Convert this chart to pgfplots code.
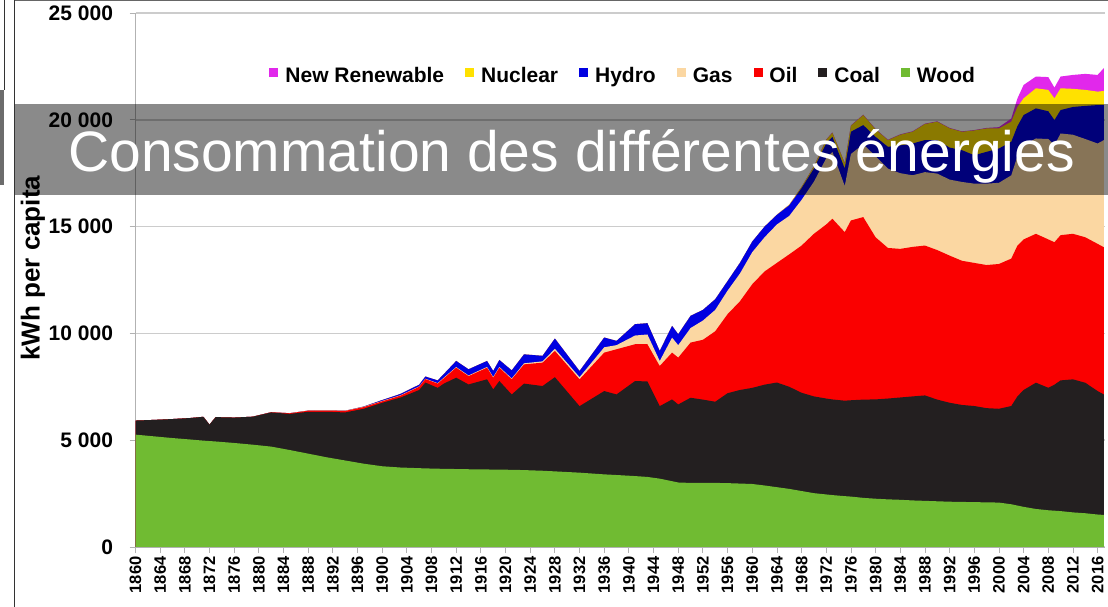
\documentclass[border=0pt]{standalone}
\usepackage{pgfplots}
\pgfplotsset{compat=1.18}
\usepackage{pgfplotstable}
\usepackage{fontspec}
\setmainfont{Liberation Sans}
\definecolor{wood}{RGB}{112,187,50}
\definecolor{coal}{RGB}{35,31,32}
\definecolor{oil}{RGB}{250,0,0}
\definecolor{gas}{RGB}{251,215,162}
\definecolor{hydro}{RGB}{0,0,225}
\definecolor{nuclear}{RGB}{255,225,0}
\definecolor{renew}{RGB}{225,40,235}
\pgfplotstableread{
year W C O G H N R
1860 5260 5920 5920 5920 5920 5920 5920
1863 5180 5950 5950 5950 5950 5950 5950
1866 5100 5990 5990 5990 5990 5990 5990
1869 5030 6040 6040 6040 6040 6040 6040
1871 4980 6095 6095 6095 6095 6095 6095
1872 4960 5730 5730 5730 5730 5730 5730
1873 4940 6080 6080 6080 6080 6080 6080
1876 4870 6060 6060 6060 6060 6060 6060
1879 4790 6100 6100 6100 6100 6100 6100
1882 4700 6300 6310 6310 6310 6310 6310
1885 4540 6230 6260 6265 6265 6265 6265
1888 4370 6330 6380 6385 6385 6385 6385
1891 4200 6330 6390 6400 6400 6400 6400
1894 4050 6300 6370 6380 6380 6380 6380
1897 3900 6470 6550 6565 6575 6575 6575
1900 3780 6750 6820 6840 6880 6880 6880
1903 3720 7000 7090 7110 7170 7170 7170
1906 3690 7350 7500 7520 7600 7600 7600
1907 3680 7700 7860 7880 7980 7980 7980
1909 3665 7450 7650 7670 7800 7800 7800
1910 3660 7650 7900 7930 8100 8100 8100
1912 3650 7925 8395 8425 8710 8710 8710
1914 3640 7610 8000 8030 8320 8320 8320
1917 3630 7850 8395 8430 8710 8710 8710
1918 3625 7380 7925 7960 8240 8240 8240
1919 3620 7770 8395 8430 8755 8755 8755
1921 3615 7140 7850 7890 8270 8270 8270
1923 3600 7650 8550 8600 9020 9020 9020
1926 3570 7535 8630 8690 8950 8950 8950
1928 3540 7950 9180 9280 9760 9760 9760
1932 3480 6594 7850 7950 8240 8240 8240
1936 3400 7300 9100 9350 9807 9807 9807
1938 3370 7143 9257 9450 9650 9650 9650
1941 3320 7770 9492 9900 10432 10432 10432
1943 3280 7750 9492 9950 10479 10479 10479
1945 3200 6594 8473 8708 9178 9178 9178
1947 3080 6908 9100 9800 10352 10352 10352
1948 3020 6673 8866 9450 9962 9962 9962
1950 3000 6987 9570 10250 10823 10823 10823
1952 3000 6900 9700 10600 11100 11100 11100
1954 3000 6800 10100 11100 11600 11600 11600
1956 2990 7200 10900 12000 12450 12450 12450
1958 2970 7350 11500 12800 13300 13300 13300
1960 2950 7450 12300 13800 14300 14300 14300
1962 2880 7600 12900 14500 15000 15000 15000
1964 2800 7700 13300 15100 15550 15560 15560
1966 2720 7500 13700 15500 16000 16030 16030
1968 2620 7220 14112 16250 16800 16860 16860
1970 2520 7050 14662 17100 17716 17820 17835
1972 2460 6950 15100 18200 18900 19060 19080
1973 2430 6908 15367 18500 19200 19390 19410
1975 2380 6850 14740 16900 17716 17960 17980
1976 2360 6870 15287 18400 19440 19720 19740
1978 2300 6900 15445 18850 19752 20220 20240
1980 2260 6910 14500 18300 19200 19550 19570
1982 2230 6950 14000 17716 18735 19047 19067
1984 2210 7000 13956 17500 18800 19300 19320
1986 2180 7050 14050 17402 18890 19440 19460
1988 2160 7096 14112 17550 19050 19800 19820
1990 2140 6900 13900 17481 19047 19910 19930
1992 2120 6753 13642 17200 18700 19600 19620
1994 2110 6650 13400 17090 18577 19440 19460
1996 2100 6600 13300 17011 18342 19500 19520
1998 2090 6500 13200 17011 18500 19595 19620
2000 2080 6471 13250 17050 18656 19595 19655
2002 2000 6600 13500 17400 18970 19910 20060
2003 1940 7050 14112 18300 19700 20600 21000
2004 1880 7350 14400 18812 20220 21005 21630
2006 1780 7692 14662 19126 20535 21475 22025
2008 1720 7455 14400 19100 20400 21400 22000
2009 1700 7600 14270 18812 19987 21005 21506
2010 1680 7800 14600 19360 20455 21475 22025
2012 1620 7848 14662 19300 20600 21450 22100
2014 1580 7690 14500 19100 20650 21400 22150
2016 1520 7300 14191 18890 20690 21318 22100
2017 1500 7143 14036 19047 20690 21350 22415
}\data
\begin{document}
\begin{tikzpicture}
\useasboundingbox (0,0) rectangle (1108bp,607bp);
\begin{axis}[
  at={(135.5bp,60bp)}, anchor=south west,
  scale only axis, width=969.5bp, height=534bp,
  xmin=1860, xmax=2017.2, ymin=0, ymax=25000,
  axis lines*=left,
  axis line style={draw=gray!60, line width=1bp},
  ymajorgrids, grid style={draw=gray!40, line width=1.5bp},
  xtick={1860,1864,...,2016},
  minor x tick num=3,
  ytick={0,5000,10000,15000,20000,25000},
  yticklabels={0,5 000,10 000,15 000,20 000,25 000},
  tick align=outside,
  major tick length=6bp, minor tick length=4bp,
  tick style={draw=gray!60, line width=0.8bp},
  /pgf/number format/assume math mode=true,
  xticklabel={\pgfmathprintnumber[1000 sep={},fixed,precision=0]{\tick}},
  xticklabel style={rotate=90, anchor=east, font=\fontsize{16.5bp}{18bp}\selectfont\bfseries},
  yticklabel style={font=\fontsize{21bp}{23bp}\selectfont\bfseries, xshift=-13bp},
  ylabel={kWh per capita},
  ylabel style={at={(axis description cs:-0.1057,0.522)}, anchor=center, font=\fontsize{26bp}{28bp}\selectfont\bfseries},
  legend columns=7,
  legend style={at={(axis description cs:0.503,0.882)}, anchor=center, draw=none, fill=none,
    font=\fontsize{21bp}{24bp}\selectfont\bfseries,
    /tikz/every odd column/.append style={column sep=5bp},
    /tikz/every even column/.append style={column sep=19bp}},
  legend image code/.code={\fill[#1] (0bp,-1bp) rectangle (9bp,8bp);},
]
\addplot[fill=renew, draw=none] table[x=year,y=R] {\data} \closedcycle;
\addlegendentry{New Renewable}
\addplot[fill=nuclear, draw=none] table[x=year,y=N] {\data} \closedcycle;
\addlegendentry{Nuclear}
\addplot[fill=hydro, draw=none] table[x=year,y=H] {\data} \closedcycle;
\addlegendentry{Hydro}
\addplot[fill=gas, draw=none] table[x=year,y=G] {\data} \closedcycle;
\addlegendentry{Gas}
\addplot[fill=oil, draw=none] table[x=year,y=O] {\data} \closedcycle;
\addlegendentry{Oil}
\addplot[fill=coal, draw=none] table[x=year,y=C] {\data} \closedcycle;
\addlegendentry{Coal}
\addplot[fill=wood, draw=none] table[x=year,y=W] {\data} \closedcycle;
\addlegendentry{Wood}
\end{axis}
% decorative frame lines of the screenshot
\draw[black!80, line width=1.2bp] (14.5bp,0bp) -- (14.5bp,607bp);
\draw[black!60, line width=1bp] (14.5bp,606bp) -- (1108bp,606bp);
\draw[black!80, line width=1bp] (4.5bp,517bp) -- (4.5bp,607bp);
\fill[gray!85!black] (0bp,422bp) rectangle (4bp,517bp);
% banner
\fill[black, opacity=0.46] (15bp,412bp) rectangle (1108bp,503bp);
\node[anchor=base, text=white, font=\fontsize{57bp}{60bp}\selectfont, inner sep=0pt] at (571.5bp,435bp) {Consommation des différentes énergies};
\end{tikzpicture}
\end{document}
